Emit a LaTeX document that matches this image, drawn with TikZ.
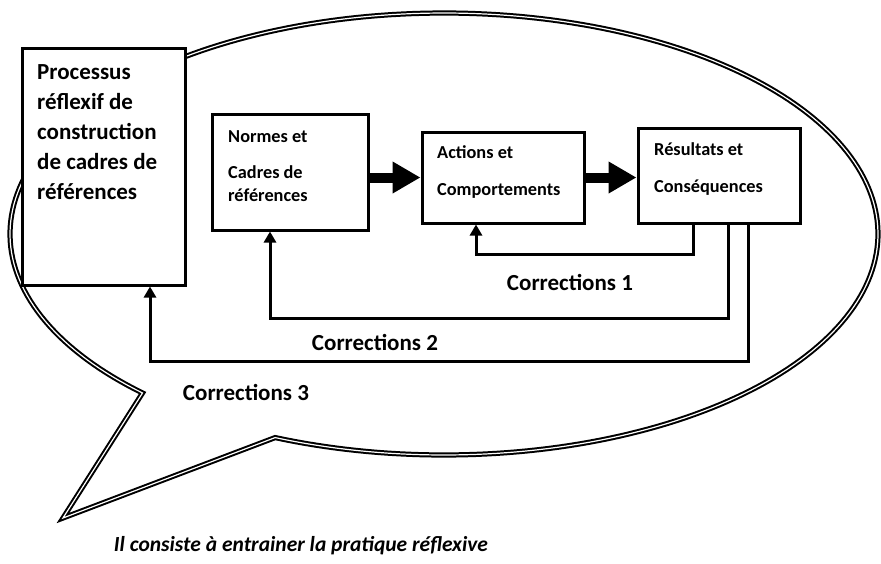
\documentclass[tikz,border=0pt]{standalone}
\usepackage{fontspec}
\setmainfont{Carlito}
\usetikzlibrary{arrows.meta,calc}
\begin{document}
\begin{tikzpicture}[x=1pt,y=-1pt,
  box/.style={draw, line width=3pt, fill=white, inner sep=0pt},
  bigarrow/.style={line width=10pt, -{Triangle[length=28pt,width=30pt]}},
  corr/.style={line width=3pt, -{Triangle[length=11pt,width=12pt]}},
  bubble/.style={draw, line width=2pt, double=white, double distance=1.2pt, line join=miter},
  txt/.style={anchor=base west, inner sep=0pt, font=\bfseries\fontsize{18.3}{23}\selectfont},
  bigtxt/.style={anchor=base west, inner sep=0pt, font=\bfseries\fontsize{23}{30}\selectfont},
  lbl/.style={inner sep=0pt, font=\bfseries\fontsize{23}{27}\selectfont}]
\useasboundingbox (0,0) rectangle (881,563);
% speech bubble
\draw[bubble] plot[domain=-226:112.9, samples=240, variable=\t] ({444+434*cos(\t)}, {234+221*sin(\t)}) -- (63,518) -- cycle;
% boxes
\node[box, minimum width=163pt, minimum height=237pt] (proc) at (103.5,166.5) {};
\node[box, minimum width=156pt, minimum height=116pt] (normes) at (290,172) {};
\node[box, minimum width=162pt, minimum height=91pt] (actions) at (503,177.5) {};
\node[box, minimum width=162pt, minimum height=95pt] (result) at (719,175.5) {};
% box texts
\node[bigtxt] (proct) at (37,79) {\vtop{\hbox{Processus}\hbox{réflexif de}\hbox{construction}\hbox{de cadres de}\hbox{références}}};
\node[txt] (normest) at (228,142) {\vtop{\hbox{Normes et}\vskip13pt\hbox{Cadres de}\hbox{références}}};
\node[txt, font=\bfseries\fontsize{18.3}{37}\selectfont] (actionst) at (437,158) {\vtop{\hbox{Actions et}\hbox{Comportements}}};
\node[txt, font=\bfseries\fontsize{18.3}{37}\selectfont] (resultt) at (654,155) {\vtop{\hbox{Résultats et}\hbox{Conséquences}}};
% main arrows
\draw[bigarrow] (normes.east |- actions.west) -- (actions.west);
\draw[bigarrow] (actions.east) -- (result.west |- actions.east);
% correction loops
\coordinate (c1r) at (693,254); \coordinate (c1l) at (476,254);
\coordinate (c2r) at (728,318); \coordinate (c2l) at (270,318);
\coordinate (c3r) at (748,361); \coordinate (c3l) at (150,361);
\draw[corr] (result.south -| c1r) -- (c1r) -- (c1l) -- (actions.south -| c1l);
\draw[corr] (result.south -| c2r) -- (c2r) -- (c2l) -- (normes.south -| c2l);
\draw[corr] (result.south -| c3r) -- (c3r) -- (c3l) -- (proc.south -| c3l);
% labels
\node[lbl] (l1) at (570,282) {Corrections 1};
\node[lbl] (l2) at (375,342) {Corrections 2};
\node[lbl] (l3) at (246,392) {Corrections 3};
% caption
\node[inner sep=0pt, font=\bfseries\itshape\fontsize{21.5}{25}\selectfont] (cap) at (301,546) {Il consiste à entrainer la pratique réflexive};
\end{tikzpicture}
\end{document}
